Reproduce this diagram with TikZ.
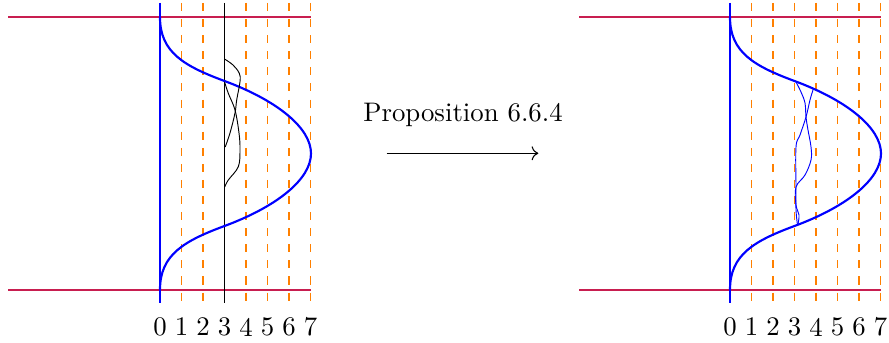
\documentclass[tikz,border=0pt]{standalone}
\usetikzlibrary{arrows.meta}
\definecolor{bndcol}{RGB}{200,30,80}
\tikzset{
  bound/.style={bndcol, line width=0.6pt},
  axisline/.style={blue, thick},
  bell/.style={blue, thick},
  grid/.style={orange, line width=0.5pt, dashed},
  fiber/.style={black, semithick},
  strand/.style={line width=0.35pt},
  lab/.style={inner sep=0pt, font=\normalsize},
}
\begin{document}
\begin{tikzpicture}[x=0.373pt, y=-0.373pt]
\useasboundingbox (0,0) rectangle (889,343);
% ---------- left diagram ----------
\begin{scope}
  \draw[bound] (8,17.3) -- (311,17.3);
  \draw[bound] (8,289.7) -- (311,289.7);
  \foreach \i in {1,2,4,5,6,7} {
    \draw[grid] (160+21.5*\i,3) -- (160+21.5*\i,303);
  }
  \draw[fiber] (224.5,3) -- (224.5,303);
  \draw[axisline] (160,3) -- (160,303);
  \draw[bell] (160,17.3) .. controls (160,52.3) and (184,66) .. (224.5,81)
     .. controls (278.5,101) and (311,128.5) .. (311,153.5)
     .. controls (311,178.5) and (278.5,206) .. (224.5,226)
     .. controls (184,241) and (160,254.7) .. (160,289.7);
  \draw[strand] plot[smooth, tension=0.6] coordinates {(224.5,59) (233,65) (239.3,73.3) (240,81.7) (236.7,100) (235,113) (230,133) (225.2,147)};
  \draw[strand] plot[smooth, tension=0.6] coordinates {(224.5,81.7) (228.3,93.3) (235,110) (239,133) (240,150) (238.3,166.7) (228.3,180) (224.7,187)};
  \foreach \i in {0,...,7} {
    \node[lab] (l\i) at (160+21.5*\i,327) {\i};
  }
\end{scope}
% ---------- arrow ----------
\node[lab] (prop) at (463,115) {Proposition 6.6.4};
\coordinate (as) at (386.7,153.3);
\coordinate (ae) at (538.3,153.3);
\draw[->] (as) -- (ae);
% ---------- right diagram ----------
\begin{scope}[shift={(570,0)}]
  \draw[bound] (9.3,17.3) -- (311,17.3);
  \draw[bound] (9.3,289.7) -- (311,289.7);
  \foreach \i in {1,...,7} {
    \draw[grid] (160+21.5*\i,3) -- (160+21.5*\i,303);
  }
  \draw[axisline] (160,3) -- (160,303);
  \draw[bell] (160,17.3) .. controls (160,52.3) and (184,66) .. (224.5,81)
     .. controls (278.5,101) and (311,128.5) .. (311,153.5)
     .. controls (311,178.5) and (278.5,206) .. (224.5,226)
     .. controls (184,241) and (160,254.7) .. (160,289.7);
  \draw[strand, blue] plot[smooth, tension=0.6] coordinates {(226,82) (231,92) (235,103) (236,117) (238,130) (241,147) (241,160) (235,175) (226,187) (226,205) (229,215) (228,224)};
  \draw[strand, blue] plot[smooth, tension=0.6] coordinates {(243.3,89) (240,100) (236,117) (230,135) (226,147) (226,187) (226,210) (227.5,225)};
  \foreach \i in {0,...,7} {
    \node[lab] (r\i) at (160+21.5*\i,327) {\i};
  }
\end{scope}
\end{tikzpicture}
\end{document}
